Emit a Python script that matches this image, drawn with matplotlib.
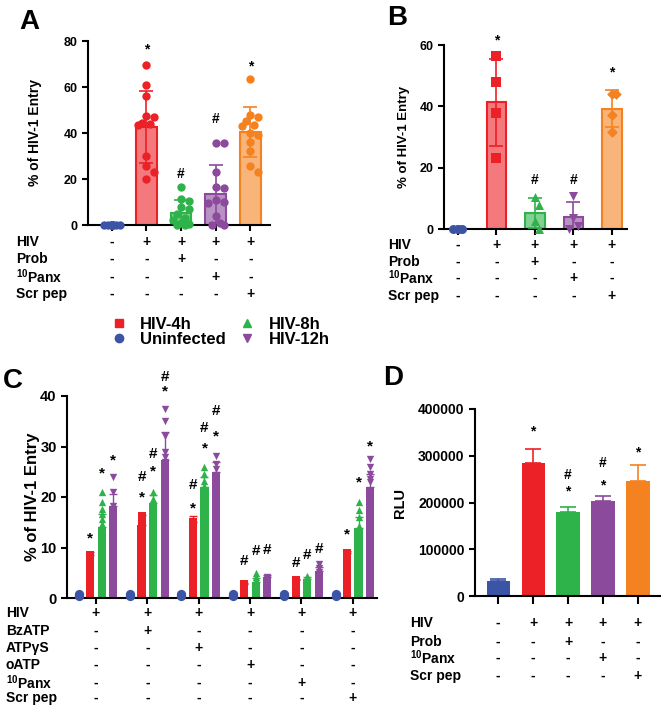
import numpy as np
import matplotlib
matplotlib.use('Agg')
import matplotlib.pyplot as plt
from matplotlib.lines import Line2D
import matplotlib.transforms as mtrans
from matplotlib.colors import to_rgb

plt.rcParams['font.family'] = ['Liberation Sans', 'DejaVu Sans']
plt.rcParams['font.weight'] = 'bold'
plt.rcParams['mathtext.fontset'] = 'custom'
plt.rcParams['mathtext.rm'] = 'Liberation Sans:bold'
plt.rcParams['mathtext.bf'] = 'Liberation Sans:bold'
plt.rcParams['mathtext.it'] = 'Liberation Sans:bold'

# ---------------- colours ----------------
BLUE = '#3B54A5'
RED = '#EC2027'
GREEN = '#2DB34A'
PURPLE = '#8B4A9C'
ORANGE = '#F58220'

# ---------------- data: panel A ----------------
A_series = ['Uninfected', 'HIV', 'HIV+Prob', 'HIV+10Panx', 'HIV+Scr pep']
A_blue = [0, 0, 0, 0, 0, 0, 0, 0, 0, 0, 0, 0]
A_red = [69.5, 61, 56, 47.5, 47, 44.5, 44, 43.5, 30, 25.5, 23, 20]
A_green = [16.5, 11.5, 10.5, 8, 7, 5, 3, 2, 1, 0.5, 0, 0]
A_purple = [35.5, 35.5, 23, 16.5, 16, 11, 10, 9.5, 4, 1, 0, 0]
A_orange = [63.5, 48, 47, 45, 43.5, 43, 40, 39, 36, 32, 25.5, 23]
A_annot = ['', '*', '#', '#', '*']
A_annot_y = [None, 76.5, 22, 46, 69]

# ---------------- data: panel B ----------------
B_blue = [0, 0, 0, 0]
B_red = [56.5, 47.8, 37.7, 23.3]
B_green = [10.5, 7.8, 2.5, 0]
B_purple = [10.9, 3.5, 1.0, 0.0]
B_orange = [44.0, 44.0, 37.2, 31.7]
B_annot = ['', '*', '#', '#', '*']
B_annot_y = [None, 61.4, 16, 16, 51]

# ---------------- table rows (A, B, D) ----------------
tbl_rows = ['HIV', 'Prob', r'$^{10}$Panx', 'Scr pep']
tbl_vals = [['-', '+', '+', '+', '+'],
            ['-', '-', '+', '-', '-'],
            ['-', '-', '-', '+', '-'],
            ['-', '-', '-', '-', '+']]

# ---------------- data: panel C ----------------
C_rows = ['HIV', 'BzATP', 'ATPγS', 'oATP', r'$^{10}$Panx', 'Scr pep']
C_vals = [['+', '+', '+', '+', '+', '+'],
          ['-', '+', '-', '-', '-', '-'],
          ['-', '-', '+', '-', '-', '-'],
          ['-', '-', '-', '+', '-', '-'],
          ['-', '-', '-', '-', '+', '-'],
          ['-', '-', '-', '-', '-', '+']]
C_mean_blue = [0.5, 0.5, 0.5, 0.5, 0.5, 0.5]
C_mean_red = [8.6, 14.4, 15.0, 2.8, 3.6, 8.9]
C_mean_green = [14.1, 18.8, 22.0, 3.1, 3.8, 13.8]
C_mean_purple = [18.2, 27.3, 25.0, 4.1, 5.4, 22.0]
C_sd_red = [0.5, 2.0, 1.2, 0.2, 0.2, 0.5]
C_sd_green = [2.5, 1.5, 2.0, 0.8, 0.4, 2.3]
C_sd_purple = [2.3, 5.5, 2.0, 0.4, 0.8, 2.5]
C_pts_blue = [[0.7, 0.5, 0.4]] * 6
C_pts_red = [[8.6, 8.3, 7.9, 7.0, 6.5, 6.2],
             [16.2, 14.6, 13.5, 12.8, 10.3, 9.6],
             [15.0, 14.2, 13.4, 12.5, 11.0, 10.2],
             [2.8, 2.6, 2.4, 2.2],
             [3.6, 3.4, 3.0, 2.8],
             [8.9, 8.2, 7.6, 7.0, 6.4]]
C_pts_green = [[21.0, 19.0, 17.6, 16.6, 15.6, 14.6, 13.2, 11.0, 9.5],
               [21.0, 19.6, 18.8, 18.2, 17.5],
               [26.0, 24.5, 23.2, 22.2, 21.5, 20.5],
               [5.0, 4.2, 3.5, 2.8],
               [4.3, 3.8, 3.4],
               [19.0, 17.5, 16.0, 14.2, 12.5, 11.0, 9.8]]
C_pts_purple = [[24.0, 21.0, 18.2, 16.0, 15.0],
                [37.5, 35.0, 32.0, 29.0, 28.0, 27.0, 25.0, 22.0, 21.0],
                [28.2, 26.6, 25.5, 24.0, 22.5, 21.0],
                [4.2, 3.8, 3.4],
                [6.8, 6.0, 5.2, 4.5],
                [27.5, 26.0, 24.5, 23.5, 23.0, 21.0, 19.0]]
C_star_red = [11.8, 20.0, 17.8, None, None, 12.5]
C_hash_red = [None, 24.0, 22.4, 7.3, 7.0, None]
C_star_green = [24.7, 25.0, 29.7, None, None, 22.8]
C_hash_green = [None, 28.5, 33.6, 9.3, 8.5, None]
C_star_purple = [27.3, 40.8, 31.9, None, None, 30.0]
C_hash_purple = [None, 43.8, 37.1, 9.5, 9.7, None]

# ---------------- data: panel D ----------------
D_mean = [33000, 284000, 180000, 203000, 245000]
D_err = [4000, 31000, 10000, 10000, 35000]
D_star_y = [None, 351000, 223000, 237000, 306000]
D_hash_y = [None, None, 259000, 285000, None]

COLS5 = [BLUE, RED, GREEN, PURPLE, ORANGE]

W, H = 661, 710
fig = plt.figure(figsize=(W / 100, H / 100), dpi=100)


def ax_px(left, right, top, bottom):
    return fig.add_axes([left / W, 1 - bottom / H, (right - left) / W, (bottom - top) / H])


def lighten(c, a=0.6):
    r = np.array(to_rgb(c))
    return tuple(r * a + (1 - a))


def style_axis(ax, lw=1.5, fs=9):
    for s in ['top', 'right']:
        ax.spines[s].set_visible(False)
    for s in ['left', 'bottom']:
        ax.spines[s].set_linewidth(lw)
    ax.tick_params(axis='both', width=lw, length=4, labelsize=fs)
    ax.tick_params(axis='x', labelbottom=False)


def swarm(ax, vals, ms_px, maxw_px):
    pos = ax.get_position()
    wpx = pos.width * W
    hpx = pos.height * H
    xl = ax.get_xlim(); yl = ax.get_ylim()
    ppx = wpx / (xl[1] - xl[0]); ppy = hpx / (yl[1] - yl[0])
    ys = np.asarray(vals, float) * ppy
    order = np.argsort(-ys, kind='stable')
    step = ms_px * 0.5
    nk = int(maxw_px // step)
    cands = [0.0]
    for k in range(1, nk + 1):
        cands += [k * step, -k * step]
    placed = []
    offs = np.zeros(len(ys))
    for i in order:
        best = None; bestd = -1; bestc = 0.0
        for c in cands:
            if not placed:
                best = c; break
            d = min(np.hypot(c - px, ys[i] - py) for px, py in placed)
            if d >= ms_px * 0.95:
                best = c; break
            if d > bestd:
                bestd = d; bestc = c
        if best is None:
            best = bestc
        placed.append((best, ys[i]))
        offs[i] = best / ppx
    return offs


def table(ax, xs, rows, vals, row_px, label_px, fs=10):
    tr = mtrans.blended_transform_factory(ax.transData, fig.transFigure)
    for r, (lab, ypx) in enumerate(zip(rows, row_px)):
        fig.text(label_px / W, 1 - ypx / H, lab, ha='left', va='center', fontsize=fs, fontweight='bold')
        for x, v in zip(xs, vals[r]):
            ax.text(x, 1 - ypx / H, v, transform=tr, ha='center', va='center', fontsize=fs,
                    fontweight='bold', clip_on=False)


# ================= Panel A =================
axA = ax_px(88, 270, 41, 225)
axA.set_xlim(-0.69, 4.57)
axA.set_ylim(0, 80)
axA.set_yticks([0, 20, 40, 60, 80])
style_axis(axA, fs=9)
xA = np.arange(5)
A_all = [A_blue, A_red, A_green, A_purple, A_orange]
A_mean = [np.mean(v) for v in A_all]
A_sd = [np.std(v, ddof=1) for v in A_all]
axA.bar(xA, A_mean, width=0.6, color=[lighten(c) for c in COLS5], edgecolor=COLS5, linewidth=1.5, zorder=2)
for i in range(5):
    axA.errorbar(xA[i], A_mean[i], yerr=A_sd[i], color=COLS5[i], capsize=5, elinewidth=1.2,
                 capthick=1.2, zorder=3)
    off = swarm(axA, A_all[i], 8, 11)
    axA.scatter(xA[i] + off, A_all[i], s=36, color=COLS5[i], zorder=4, clip_on=False, linewidths=0)
    if A_annot[i]:
        axA.text(xA[i], A_annot_y[i], A_annot[i], ha='center', va='center', fontsize=10, fontweight='bold')
axA.set_xticks(xA)
axA.set_ylabel('% of HIV-1 Entry', fontsize=10, fontweight='bold')
axA.yaxis.set_label_coords(-0.25, 0.5)
table(axA, xA, tbl_rows, tbl_vals, [242, 259, 277, 294], 16)

# ================= Panel B =================
axB = ax_px(444, 627, 45, 229)
axB.set_xlim(-0.36, 4.39)
axB.set_ylim(0, 60)
axB.set_yticks([0, 20, 40, 60])
style_axis(axB, fs=9)
xB = np.arange(5)
B_all = [B_blue, B_red, B_green, B_purple, B_orange]
B_mark = ['o', 's', '^', 'v', 'D']
B_mean = [np.mean(v) for v in B_all]
B_sd = [np.std(v, ddof=1) for v in B_all]
axB.bar(xB, B_mean, width=0.5, color=[lighten(c) for c in COLS5], edgecolor=COLS5, linewidth=1.5, zorder=2)
for i in range(5):
    axB.errorbar(xB[i], B_mean[i], yerr=B_sd[i], color=COLS5[i], capsize=5, elinewidth=1.2,
                 capthick=1.2, zorder=3)
    off = swarm(axB, B_all[i], 9, 5)
    axB.scatter(xB[i] + off, B_all[i], s=42 if B_mark[i] != 'D' else 30, marker=B_mark[i],
                color=COLS5[i], zorder=4, clip_on=False, linewidths=0)
    if B_annot[i]:
        axB.text(xB[i], B_annot_y[i], B_annot[i], ha='center', va='center', fontsize=10, fontweight='bold')
axB.set_xticks(xB)
axB.set_ylabel('% of HIV-1 Entry', fontsize=9.5, fontweight='bold')
axB.yaxis.set_label_coords(-0.186, 0.5)
table(axB, xB, tbl_rows, tbl_vals, [245, 262, 278, 296], 388)

# ================= Panel C =================
axC = ax_px(67, 377, 396, 598)
axC.set_xlim(-0.564, 5.47)
axC.set_ylim(0, 40)
axC.set_yticks([0, 10, 20, 30, 40])
style_axis(axC, fs=10.5)
xC = np.arange(6)
dC = 0.224
bwC = 0.16
C_series = [
    (C_mean_red, C_sd_red, C_pts_red, RED, 's', -0.5 * dC, C_star_red, C_hash_red),
    (C_mean_green, C_sd_green, C_pts_green, GREEN, '^', 0.5 * dC, C_star_green, C_hash_green),
    (C_mean_purple, C_sd_purple, C_pts_purple, PURPLE, 'v', 1.5 * dC, C_star_purple, C_hash_purple),
]
for g in range(6):
    off = swarm(axC, C_pts_blue[g], 7, 2)
    axC.scatter(xC[g] - 1.5 * dC + off, C_pts_blue[g], s=44, color=BLUE, marker='o', zorder=4,
                clip_on=False, linewidths=0)
for mean, sd, pts, col, mk, dx, st, hs in C_series:
    axC.bar(xC + dx, mean, width=bwC, color=col, zorder=2)
    axC.errorbar(xC + dx, mean, yerr=[np.zeros(6), sd], fmt='none', ecolor=col, capsize=3,
                 elinewidth=1, capthick=1, zorder=3)
    for g in range(6):
        off = swarm(axC, pts[g], 6, 2)
        axC.scatter(xC[g] + dx + off, pts[g], s=28, marker=mk, color=col, zorder=4, linewidths=0,
                    clip_on=False)
        if st[g] is not None:
            axC.text(xC[g] + dx, st[g], '*', ha='center', va='center', fontsize=11, fontweight='bold')
        if hs[g] is not None:
            axC.text(xC[g] + dx, hs[g], '#', ha='center', va='center', fontsize=11, fontweight='bold')
axC.set_xticks(xC)
axC.set_ylabel('% of HIV-1 Entry', fontsize=12, fontweight='bold')
axC.yaxis.set_label_coords(-0.087, 0.5)
table(axC, xC, C_rows, C_vals, [613, 631, 648, 665, 683, 698], 6)

# ================= Panel D =================
axD = ax_px(475, 660, 409, 596)
axD.set_xlim(-0.66, 4.63)
axD.set_ylim(0, 400000)
axD.set_yticks([0, 100000, 200000, 300000, 400000])
style_axis(axD, fs=10)
axD.tick_params(axis='x', length=5.5)
xD = np.arange(5)
axD.bar(xD, D_mean, width=0.66, color=COLS5, zorder=2)
for i in range(5):
    axD.errorbar(xD[i], D_mean[i], yerr=[[0], [D_err[i]]], color=COLS5[i], capsize=6, elinewidth=1.2,
                 capthick=1.2, zorder=3)
    if D_star_y[i] is not None:
        axD.text(xD[i], D_star_y[i], '*', ha='center', va='center', fontsize=10, fontweight='bold')
    if D_hash_y[i] is not None:
        axD.text(xD[i], D_hash_y[i], '#', ha='center', va='center', fontsize=10, fontweight='bold')
axD.set_xticks(xD)
axD.set_ylabel('RLU', fontsize=10.5, fontweight='bold')
axD.yaxis.set_label_coords(-0.366, 0.5)
table(axD, xD, tbl_rows, tbl_vals, [623, 642, 658, 676], 410)

# ================= Legend =================
handles = [Line2D([], [], ls='none', marker='s', color=RED, markersize=6),
           Line2D([], [], ls='none', marker='o', color=BLUE, markersize=6),
           Line2D([], [], ls='none', marker='^', color=GREEN, markersize=6),
           Line2D([], [], ls='none', marker='v', color=PURPLE, markersize=6)]
labels = ['HIV-4h', 'Uninfected', 'HIV-8h', 'HIV-12h']
fig.legend(handles, labels, ncol=2, loc='upper left', bbox_to_anchor=(112 / W, 1 - 317 / H),
           frameon=False, prop={'size': 12, 'weight': 'bold'}, handlelength=0.8, handletextpad=0.9,
           columnspacing=0.85, labelspacing=0.0, borderpad=0, borderaxespad=0)

# ================= Panel letters =================
for lab, x, y in [('A', 19, 9), ('B', 387, 5), ('C', 3, 368), ('D', 383, 365)]:
    fig.text(x / W, 1 - y / H, lab, fontsize=20, fontweight='bold', ha='left', va='top')

fig.savefig('out.png', dpi=100)
